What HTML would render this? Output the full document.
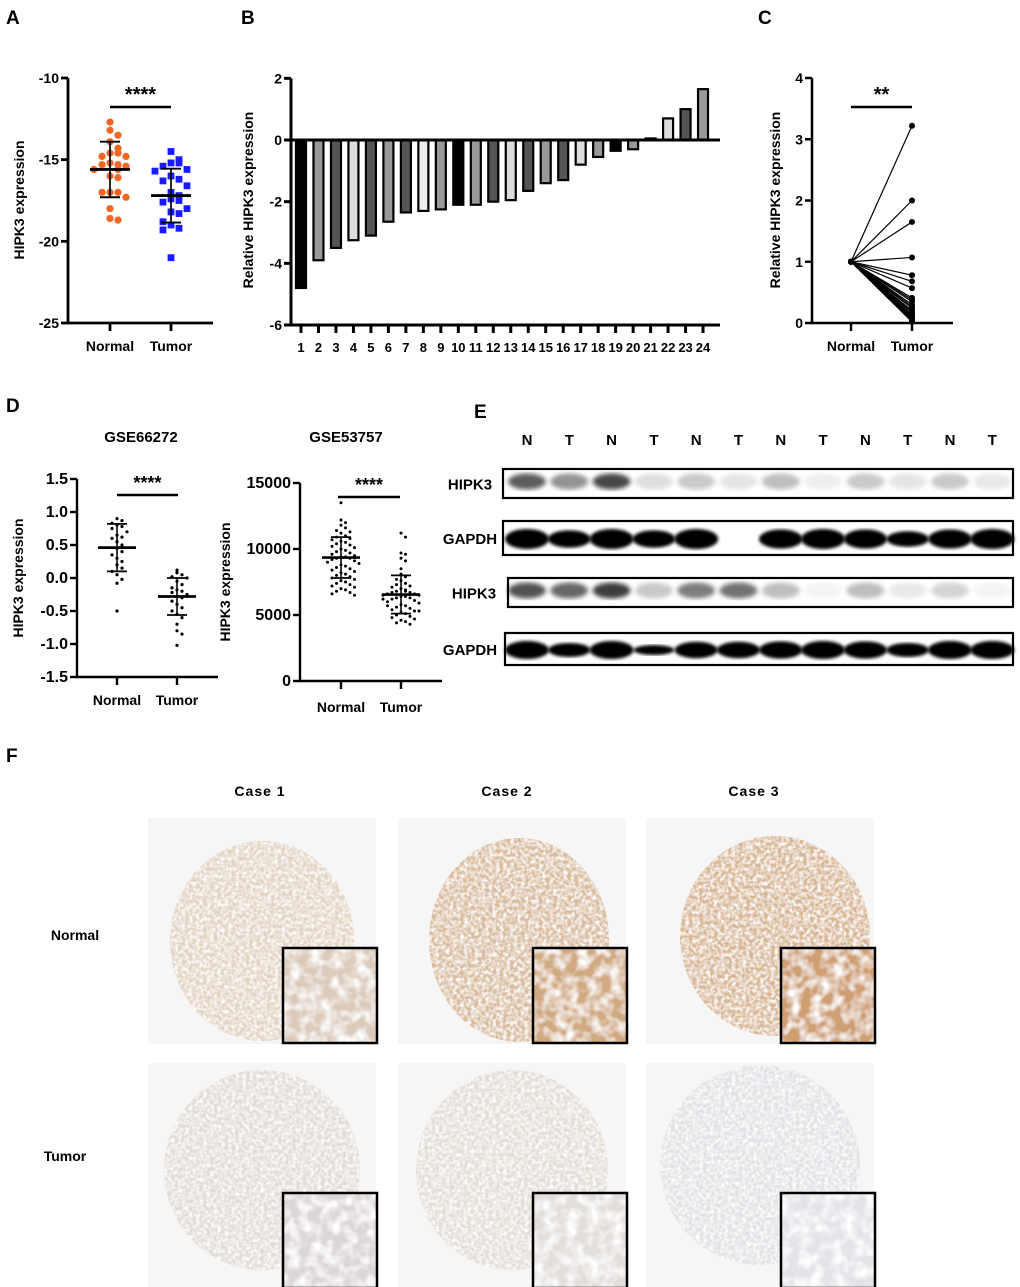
<!DOCTYPE html>
<html><head><meta charset="utf-8">
<style>
html,body{margin:0;padding:0;background:#fff;}
svg{display:block;font-family:"Liberation Sans",Arial,sans-serif;}
.b{font-weight:bold;}
</style></head>
<body>
<svg id="fig" width="1020" height="1287" viewBox="0 0 1020 1287" xmlns="http://www.w3.org/2000/svg">
<defs>
<filter id="tex" x="0" y="0" width="1" height="1">
<feTurbulence type="fractalNoise" baseFrequency="0.28" numOctaves="2" seed="4" result="n"/>
<feColorMatrix in="n" type="matrix" values="0 0 0 0 1  0 0 0 0 1  0 0 0 0 1  0 0 0 -2.2 1.45" result="w"/>
<feComposite in="w" in2="SourceGraphic" operator="in" result="wm"/>
<feMerge><feMergeNode in="SourceGraphic"/><feMergeNode in="wm"/></feMerge>
</filter>
<filter id="tex2" x="0" y="0" width="1" height="1">
<feTurbulence type="fractalNoise" baseFrequency="0.09" numOctaves="2" seed="9" result="n"/>
<feColorMatrix in="n" type="matrix" values="0 0 0 0 1  0 0 0 0 1  0 0 0 0 1  0 0 0 -2.4 1.5" result="w"/>
<feComposite in="w" in2="SourceGraphic" operator="in" result="wm"/>
<feMerge><feMergeNode in="SourceGraphic"/><feMergeNode in="wm"/></feMerge>
</filter>
<filter id="blur"><feGaussianBlur stdDeviation="2.5"/></filter>
<filter id="blur2"><feGaussianBlur stdDeviation="1.6"/></filter>
</defs>

<text x="6" y="24" font-size="19" class="b">A</text>
<text x="241" y="24" font-size="19" class="b">B</text>
<text x="758" y="24" font-size="19" class="b">C</text>
<text x="6" y="412" font-size="19" class="b">D</text>
<text x="474" y="418" font-size="19" class="b">E</text>
<text x="6" y="762" font-size="19" class="b">F</text>

<text transform="translate(24,200) rotate(-90)" text-anchor="middle" font-size="14" class="b">HIPK3 expression</text>
<text transform="translate(253,200) rotate(-90)" text-anchor="middle" font-size="14" class="b">Relative HIPK3 expression</text>
<text transform="translate(780,200) rotate(-90)" text-anchor="middle" font-size="14" class="b">Relative HIPK3 expression</text>
<text transform="translate(23,578) rotate(-90)" text-anchor="middle" font-size="14" class="b">HIPK3 expression</text>
<text transform="translate(230,582) rotate(-90)" text-anchor="middle" font-size="14" class="b">HIPK3 expression</text>
<text x="141" y="442" text-anchor="middle" font-size="15" class="b">GSE66272</text>
<text x="346" y="442" text-anchor="middle" font-size="15" class="b">GSE53757</text>

<g id="charts"></g>
<g id="blots"></g>
<g id="ihc"></g>

<text x="260" y="796" text-anchor="middle" font-size="14" class="b" letter-spacing="1">Case 1</text>
<text x="507" y="796" text-anchor="middle" font-size="14" class="b" letter-spacing="1">Case 2</text>
<text x="754" y="796" text-anchor="middle" font-size="14" class="b" letter-spacing="1">Case 3</text>
<text x="75" y="940" text-anchor="middle" font-size="14" class="b">Normal</text>
<text x="65" y="1161" text-anchor="middle" font-size="14" class="b">Tumor</text>
</svg>

<script>
// ---------- data ----------
const aNormal = [-12.7,-13.2,-13.5,-13.9,-14.3,-14.6,-14.6,-14.8,-14.8,-15.2,-15.3,-15.3,-15.4,-15.6,-15.6,-16.0,-16.1,-17.0,-17.0,-17.0,-17.3,-18.0,-18.6,-18.7];
const aTumor = [-14.5,-15.0,-15.2,-15.2,-15.4,-15.6,-15.7,-16.0,-16.2,-16.3,-16.6,-17.0,-17.2,-17.4,-17.5,-17.6,-18.0,-18.2,-18.3,-18.8,-19.0,-19.2,-19.3,-21.0];
const aMean = [-15.6,-17.2];
const aSD = [1.7,1.65];
const aTicks = [-10,-15,-20,-25];
const bCases = ['1','2','3','4','5','6','7','8','9','10','11','12','13','14','15','16','17','18','19','20','21','22','23','24'];
const bValues = [-4.8,-3.9,-3.5,-3.25,-3.1,-2.65,-2.35,-2.3,-2.25,-2.1,-2.1,-2.0,-1.95,-1.65,-1.4,-1.3,-0.8,-0.55,-0.35,-0.3,0.05,0.7,1.0,1.65];
const bShades = ['#000','#999','#555','#ddd','#555','#999','#555','#eee','#999','#000','#999','#555','#ddd','#555','#999','#555','#ddd','#999','#000','#999','#fff','#ddd','#555','#999'];
const bTicks = [2,0,-2,-4,-6];
const cNormal = [1,1,1,1,1,1,1,1,1,1,1,1,1,1,1,1,1,1,1,1,1,1,1,1];
const cTumor = [3.22,2.0,1.65,1.07,0.78,0.68,0.57,0.41,0.38,0.35,0.3,0.27,0.24,0.2,0.18,0.15,0.12,0.1,0.08,0.07,0.05,0.04,0.03,0.02];
const cTicks = [0,1,2,3,4];
const d1Normal = [0.9,0.87,0.83,0.8,0.78,0.75,0.7,0.65,0.62,0.6,0.55,0.5,0.45,0.4,0.35,0.3,0.25,0.2,0.15,0.1,0.05,-0.02,-0.08,-0.5];
const d1Tumor = [0.12,0.08,0.05,0.02,0,-0.05,-0.1,-0.15,-0.18,-0.2,-0.22,-0.25,-0.28,-0.3,-0.35,-0.4,-0.45,-0.5,-0.55,-0.6,-0.7,-0.8,-0.85,-1.02];
const d1Mean = [0.46,-0.28];
const d1SD = [0.36,0.28];
const d1Ticks = [1.5,1.0,0.5,0.0,-0.5,-1.0,-1.5];
const d1TickLabels = ['1.5','1.0','0.5','0.0','-0.5','-1.0','-1.5'];
const d2Normal = [13500,12200,12000,11800,11600,11400,11300,11200,11000,10900,10800,10700,10600,10500,10400,10300,10200,10100,10000,9900,9800,9700,9600,9500,9400,9400,9300,9300,9200,9100,9000,8900,8800,8700,8600,8500,8400,8300,8200,8100,8000,7900,7800,7700,7600,7500,7400,7300,7200,7100,7000,6900,6800,6700,6600,6500];
const d2Tumor = [11200,10900,9700,9600,9300,9100,8500,8100,7900,7700,7600,7400,7300,7200,7100,7000,6900,6800,6700,6700,6600,6600,6500,6500,6400,6400,6300,6300,6200,6100,6000,5900,5800,5700,5600,5500,5400,5300,5200,5100,5000,4900,4800,4700,4600,4500,4400,4300,6800,6200,5700,5300];
const d2Mean = [9350,6550];
const d2SD = [1550,1450];
const d2Ticks = [15000,10000,5000,0];
const eLanes = ['N','T','N','T','N','T','N','T','N','T','N','T'];
const eHipk3a = [0.75,0.5,0.85,0.15,0.25,0.12,0.3,0.08,0.25,0.12,0.25,0.1];
const eGapdha = [1,0.85,1,0.85,1,0,0.95,1,0.95,0.75,0.95,1];
const eHipk3b = [0.8,0.7,0.9,0.25,0.6,0.65,0.3,0.05,0.3,0.1,0.2,0.05];
const eGapdhb = [1,0.75,1,0.5,0.9,0.9,0.95,1,0.95,0.75,1,1];

// ---------- helpers ----------
const NS = 'http://www.w3.org/2000/svg';
function mk(parent, tag, attrs, txt){
  const e = document.createElementNS(NS, tag);
  for (const k in attrs) e.setAttribute(k, attrs[k]);
  if (txt !== undefined) e.textContent = txt;
  parent.appendChild(e);
  return e;
}
function lin(d0,d1,r0,r1){ return v => r0 + (v-d0)*(r1-r0)/(d1-d0); }
const G = document.getElementById('charts');

function yAxis(g, x, y, ticks, labels, x1, sw, fs, name){
  const top = Math.min(...ticks.map(y)), bot = Math.max(...ticks.map(y));
  const ax = mk(g,'line',{x1:x,y1:top,x2:x,y2:bot,stroke:'#000','stroke-width':sw});
  
  
  const xa = mk(g,'line',{x1:x-sw/2,y1:bot,x2:x1,y2:bot,stroke:'#000','stroke-width':sw});
  
  
  ticks.forEach((t,i)=>{
    const tk = mk(g,'line',{x1:x-7,y1:y(t),x2:x,y2:y(t),stroke:'#000','stroke-width':sw});
    
    
    const tl = mk(g,'text',{x:x-9,y:y(t)+5,'text-anchor':'end','font-size':fs,'font-weight':'bold'}, labels[i]);
    
    
  });
  return bot;
}
function xCats(g, xs, bot, labels, sw, fs, name, dy){
  xs.forEach((cx,i)=>{
    const tk = mk(g,'line',{x1:cx,y1:bot,x2:cx,y2:bot+8,stroke:'#000','stroke-width':sw});
    
    
    const tl = mk(g,'text',{x:cx,y:bot+dy,'text-anchor':'middle','font-size':fs,'font-weight':'bold'}, labels[i]);
    
    
  });
}
function swarm(vals, y, step, sep, maxK){
  const bins = {};
  return vals.map(v=>{
    const b = Math.round(y(v)/sep);
    const n = bins[b] = (bins[b]||0)+1;
    const k = n-1;
    if (k===0) return 0;
    const lvl = ((Math.ceil(k/2)-1) % maxK) + 1;
    return (k%2? 1:-1)*lvl*step;
  });
}
function scatter(g, vals, cx, y, opt, name){
  const offs = swarm(vals, y, opt.step, opt.sep, opt.maxK);
  vals.forEach((v,i)=>{
    let p;
    if (opt.shape==='square') p = mk(g,'rect',{x:cx+offs[i]-opt.r,y:y(v)-opt.r,width:opt.r*2,height:opt.r*2,fill:opt.fill});
    else p = mk(g,'circle',{cx:cx+offs[i],cy:y(v),r:opt.r,fill:opt.fill});
    
    
  });
}
function summary(g, cx, y, mean, sd, hw, ew, sw, name){
  const m = mk(g,'line',{x1:cx-hw,y1:y(mean),x2:cx+hw,y2:y(mean),stroke:'#000','stroke-width':sw+0.5});
  
  
  const v = mk(g,'line',{x1:cx,y1:y(mean+sd),x2:cx,y2:y(mean-sd),stroke:'#000','stroke-width':sw*0.7});
  
  
  [mean+sd,mean-sd].forEach(t=>{
    const c = mk(g,'line',{x1:cx-ew,y1:y(t),x2:cx+ew,y2:y(t),stroke:'#000','stroke-width':sw*0.8});
    
    
  });
}
function sig(g, x1, x2, yl, stars, fs, name){
  const l = mk(g,'line',{x1:x1,y1:yl,x2:x2,y2:yl,stroke:'#000','stroke-width':2.5});
  
  
  const t = mk(g,'text',{x:(x1+x2)/2,y:yl-6,'text-anchor':'middle','font-size':fs,'font-weight':'bold'}, stars);
  
  
}

// Panel A
(function(){
  const g = mk(G,'g',{});
  
  
  const y = lin(-10,-25,78,323);
  const bot = yAxis(g,68,y,aTicks,aTicks.map(String),213,2.8,14,'a');
  const xs=[110,171];
  xCats(g,xs,bot,['Normal','Tumor'],2.8,14,'a',28);
  scatter(g,aNormal,xs[0],y,{r:3.6,fill:'#f26522',step:8,sep:12,maxK:2},'a-normal');
  scatter(g,aTumor,xs[1],y,{r:3.4,fill:'#1a1aff',shape:'square',step:8,sep:12,maxK:2},'a-tumor');
  summary(g,xs[0],y,aMean[0],aSD[0],20,10,2.4,'a-normal');
  summary(g,xs[1],y,aMean[1],aSD[1],20,10,2.4,'a-tumor');
  sig(g,110,171,107,'****',20,'a');
})();

// Panel B
(function(){
  const g = mk(G,'g',{});
  
  
  const y = lin(0,-6,140,325);
  const x = i => 301 + i*17.48;
  const bot = yAxis(g,291,y,bTicks,bTicks.map(String),720,3,14,'b');
  bValues.forEach((v,i)=>{
    const y0 = y(0), y1 = y(v);
    const r = mk(g,'rect',{x:x(i)-5,y:Math.min(y0,y1),width:10,height:Math.max(1.5,Math.abs(y1-y0)),fill:bShades[i],stroke:'#000','stroke-width':2.2});
    
    
  });
  const zl = mk(g,'line',{x1:291,y1:y(0),x2:720,y2:y(0),stroke:'#000','stroke-width':3});
  
  
  xCats(g,bCases.map((c,i)=>x(i)),bot,bCases,3,13,'b',27);
})();

// Panel C
(function(){
  const g = mk(G,'g',{});
  
  
  const y = lin(0,4,323,78);
  const bot = yAxis(g,812,y,cTicks,cTicks.map(String),953,2.5,14,'c');
  const xs=[851,912];
  xCats(g,xs,bot,['Normal','Tumor'],2.5,14,'c',28);
  cTumor.forEach((v,i)=>{
    const l = mk(g,'line',{x1:xs[0],y1:y(cNormal[i]),x2:xs[1],y2:y(v),stroke:'#000','stroke-width':1.2});
    
    
    const p1 = mk(g,'circle',{cx:xs[0],cy:y(cNormal[i]),r:3,fill:'#000'});
    
    
    const p2 = mk(g,'circle',{cx:xs[1],cy:y(v),r:3,fill:'#000'});
    
    
  });
  sig(g,851,912,107,'**',20,'c');
})();

// Panel D1
(function(){
  const g = mk(G,'g',{});
  
  
  const y = lin(1.5,-1.5,479,677);
  const bot = yAxis(g,77,y,d1Ticks,d1TickLabels,218,2.4,16,'d1');
  const xs=[117,177];
  xCats(g,xs,bot,['Normal','Tumor'],2.4,14,'d1',28);
  scatter(g,d1Normal,xs[0],y,{r:1.6,fill:'#000',step:5,sep:8,maxK:2},'d1-normal');
  scatter(g,d1Tumor,xs[1],y,{r:1.6,fill:'#000',step:5,sep:8,maxK:2},'d1-tumor');
  summary(g,xs[0],y,d1Mean[0],d1SD[0],19,10,2.2,'d1-normal');
  summary(g,xs[1],y,d1Mean[1],d1SD[1],19,10,2.2,'d1-tumor');
  sig(g,117,178,495,'****',18,'d1');
})();

// Panel D2
(function(){
  const g = mk(G,'g',{});
  
  
  const y = lin(15000,0,483,681);
  const bot = yAxis(g,300,y,d2Ticks,d2Ticks.map(String),442,2.4,16,'d2');
  const xs=[341,401];
  xCats(g,xs,bot,['Normal','Tumor'],2.4,14,'d2',31);
  scatter(g,d2Normal,xs[0],y,{r:1.5,fill:'#000',step:4.5,sep:8,maxK:4},'d2-normal');
  scatter(g,d2Tumor,xs[1],y,{r:1.5,fill:'#000',step:4.5,sep:8,maxK:4},'d2-tumor');
  summary(g,xs[0],y,d2Mean[0],d2SD[0],19,10,2.2,'d2-normal');
  summary(g,xs[1],y,d2Mean[1],d2SD[1],19,10,2.2,'d2-tumor');
  sig(g,338,400,497,'****',18,'d2');
})();

// Panel E
(function(){
  const g = document.getElementById('blots');
  const lx = i => 527 + i*42.3;
  eLanes.forEach((l,i)=>{
    const t = mk(g,'text',{x:lx(i),y:445,'text-anchor':'middle','font-size':15,'font-weight':'bold'}, l);
    
    
  });
  const rows = [
    {label:'HIPK3', lx:470, box:[503,469,510,29], vals:eHipk3a, h:16, faint:true},
    {label:'GAPDH', lx:470, box:[503,521,510,34], vals:eGapdha, h:18, faint:false},
    {label:'HIPK3', lx:474, box:[508,578,505,29], vals:eHipk3b, h:16, faint:true},
    {label:'GAPDH', lx:470, box:[505,633,508,32], vals:eGapdhb, h:16, faint:false}
  ];
  rows.forEach((r,ri)=>{
    const [bx,by,bw,bh] = r.box;
    const rg = mk(g,'g',{});
    
    
    mk(rg,'rect',{x:bx,y:by,width:bw,height:bh,fill:'#fff'});
    r.vals.forEach((v,i)=>{
      if (v<=0) return;
      const cy = by+bh/2 + (r.faint?-2:1);
      let b;
      if (r.faint) b = mk(rg,'ellipse',{cx:lx(i),cy:cy,rx:19,ry:r.h/2,fill:'#000','fill-opacity':v*0.85,filter:'url(#blur)'});
      else b = mk(rg,'ellipse',{cx:lx(i),cy:cy,rx:19+3*v,ry:r.h/2*v+1,fill:'#000',filter:'url(#blur2)'});
      
      
    });
    const bd = mk(rg,'rect',{x:bx,y:by,width:bw,height:bh,fill:'none',stroke:'#000','stroke-width':2.2});
    
    
    const t = mk(rg,'text',{x:r.lx,y:by+bh/2+6,'text-anchor':'middle','font-size':15,'font-weight':'bold'}, r.label);
    
    
  });
})();

// Panel F
(function(){
  const g = document.getElementById('ihc');
  const cols = [148,398,646];
  const rowsY = [818,1063];
  const cores = [
    [{cx:262,cy:941,rx:92,ry:100,c:'#e2d3c2',i:'#dccbbb'},{cx:519,cy:940,rx:90,ry:102,c:'#d9bb9b',i:'#d2aa82'},{cx:775,cy:936,rx:95,ry:100,c:'#d8b692',i:'#cf9f72'}],
    [{cx:262,cy:1170,rx:98,ry:100,c:'#e3dbd5',i:'#ddd6d6'},{cx:512,cy:1170,rx:96,ry:100,c:'#e4ddd6',i:'#e2dedc'},{cx:760,cy:1165,rx:100,ry:100,c:'#e2e2e6',i:'#e4e3e8'}]
  ];
  rowsY.forEach((ry,ri)=>{
    cols.forEach((cx,ci)=>{
      const grp = mk(g,'g',{});
      
      
      mk(grp,'rect',{x:cx,y:ry,width:228,height:226,fill:'#f6f6f6'});
      const c = cores[ri][ci];
      mk(grp,'ellipse',{cx:c.cx,cy:c.cy,rx:c.rx,ry:c.ry,fill:c.c,filter:'url(#tex)'});
      const ix = cx+135, iy = ry+130;
      mk(grp,'rect',{x:ix,y:iy,width:94,height:95,fill:c.i,filter:'url(#tex2)'});
      const f = mk(grp,'rect',{x:ix,y:iy,width:94,height:95,fill:'none',stroke:'#000','stroke-width':2.5});
      
      
    });
  });
})();
</script>
</body></html>
